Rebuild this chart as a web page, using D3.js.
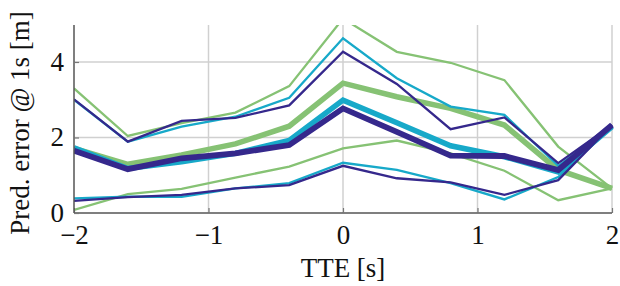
<!DOCTYPE html>
<html><head><meta charset="utf-8">
<script src="https://cdn.jsdelivr.net/npm/d3@7"></script>
<style>body{margin:0;background:#fff}svg{display:block}</style>
</head><body>
<svg id="c" width="620" height="286"></svg>
<script>
const tte = [-2, -1.6, -1.2, -0.8, -0.4, 0, 0.4, 0.8, 1.2, 1.6, 2];
const xTicks = [-2, -1, 0, 1, 2];
const yTicks = [0, 2, 4];
const xTickLabels = ["\u22122", "\u22121", "0", "1", "2"];
const yTickLabels = ["0", "2", "4"];

const greenUpper  = [3.30, 2.04, 2.38, 2.66, 3.36, 5.15, 4.27, 3.98, 3.52, 1.76, 0.65];
const greenMedian = [1.71, 1.29, 1.54, 1.83, 2.30, 3.44, 3.08, 2.77, 2.33, 1.14, 0.65];
const greenLower  = [0.08, 0.50, 0.64, 0.94, 1.23, 1.71, 1.92, 1.58, 1.12, 0.34, 0.65];
const cyanUpper   = [3.00, 1.89, 2.29, 2.55, 3.05, 4.63, 3.57, 2.82, 2.60, 1.25, 2.29];
const cyanMedian  = [1.73, 1.18, 1.36, 1.58, 1.92, 2.99, 2.39, 1.78, 1.49, 1.09, 2.29];
const cyanLower   = [0.39, 0.43, 0.43, 0.65, 0.79, 1.33, 1.14, 0.79, 0.36, 0.95, 2.29];
const purpleUpper = [3.01, 1.89, 2.44, 2.52, 2.85, 4.27, 3.42, 2.22, 2.53, 1.32, 2.33];
const purpleMedian= [1.65, 1.16, 1.45, 1.58, 1.80, 2.77, 2.15, 1.52, 1.51, 1.14, 2.33];
const purpleLower = [0.32, 0.42, 0.48, 0.65, 0.74, 1.25, 0.92, 0.81, 0.48, 0.87, 2.33];

const series = [
  {vals: greenLower, color: "#86c274", w: 2.3},
  {vals: greenUpper, color: "#86c274", w: 2.3},
  {vals: greenMedian, color: "#86c274", w: 5.5},
  {vals: cyanLower, color: "#17a9c9", w: 2.3},
  {vals: cyanUpper, color: "#17a9c9", w: 2.3},
  {vals: cyanMedian, color: "#17a9c9", w: 5.5},
  {vals: purpleLower, color: "#35288c", w: 2.3},
  {vals: purpleUpper, color: "#35288c", w: 2.3},
  {vals: purpleMedian, color: "#35288c", w: 5.8}
];

const L = 74, R = 612, T = 25, B = 213;
const FONT = "Liberation Serif, Times New Roman, serif";
const x = d3.scaleLinear().domain([-2, 2]).range([L, R]);
const y = d3.scaleLinear().domain([0, 4.98]).range([B, T]);
const svg = d3.select("#c");

// grid
const g = svg.append("g");
g.selectAll("line.vx").data(xTicks.slice(1)).enter().append("line")
  .attr("x1", d => x(d)).attr("x2", d => x(d)).attr("y1", T).attr("y2", B)
  .attr("stroke", "#d0d0d0").attr("stroke-width", 1.5);
g.selectAll("line.hy").data(yTicks.slice(1)).enter().append("line")
  .attr("x1", L).attr("x2", R).attr("y1", d => y(d)).attr("y2", d => y(d))
  .attr("stroke", "#d0d0d0").attr("stroke-width", 1.5);

// lines
svg.append("clipPath").attr("id", "cp").append("rect")
  .attr("x", L).attr("y", T).attr("width", R - L + 4).attr("height", B - T);
const line = d3.line().x((d, i) => x(tte[i])).y(d => y(d));
const lg = svg.append("g").attr("clip-path", "url(#cp)");
series.forEach(s => {
  lg.append("path").datum(s.vals).attr("d", line)
    .attr("fill", "none").attr("stroke", s.color).attr("stroke-width", s.w)
    .attr("stroke-linejoin", "miter");
});

// axes
const xa = d3.axisBottom(x).tickValues(xTicks).tickSize(-5).tickPadding(12)
  .tickFormat((d, i) => xTickLabels[i]);
const ya = d3.axisLeft(y).tickValues(yTicks).tickSize(-5).tickPadding(10)
  .tickFormat((d, i) => yTickLabels[i]);
const xg = svg.append("g").attr("transform", `translate(0,${B})`).call(xa);
const yg = svg.append("g").attr("transform", `translate(${L},0)`).call(ya);
[xg, yg].forEach(a => {
  a.select(".domain").attr("stroke", "#555").attr("stroke-width", 1.5);
  a.selectAll(".tick line").attr("stroke", "#777").attr("stroke-width", 1.2);
  a.selectAll("text").attr("font-family", FONT)
    .attr("font-size", 27).attr("fill", "#111");
});
yg.select(".domain").attr("d", `M0,${T}V${B}`);
xg.select(".domain").attr("d", `M${L},0H${R}`);
yg.selectAll(".tick text").attr("dy", "0.3em");

svg.append("text").attr("x", x(0)).attr("y", 277).attr("text-anchor", "middle")
  .attr("font-family", FONT).attr("font-size", 27).attr("fill", "#111")
  .text("TTE [s]");
svg.append("text").attr("transform", `translate(29,123) rotate(-90)`)
  .attr("text-anchor", "middle")
  .attr("font-family", FONT).attr("font-size", 27).attr("fill", "#111")
  .text("Pred. error @ 1s [m]");
</script>
</body></html>
